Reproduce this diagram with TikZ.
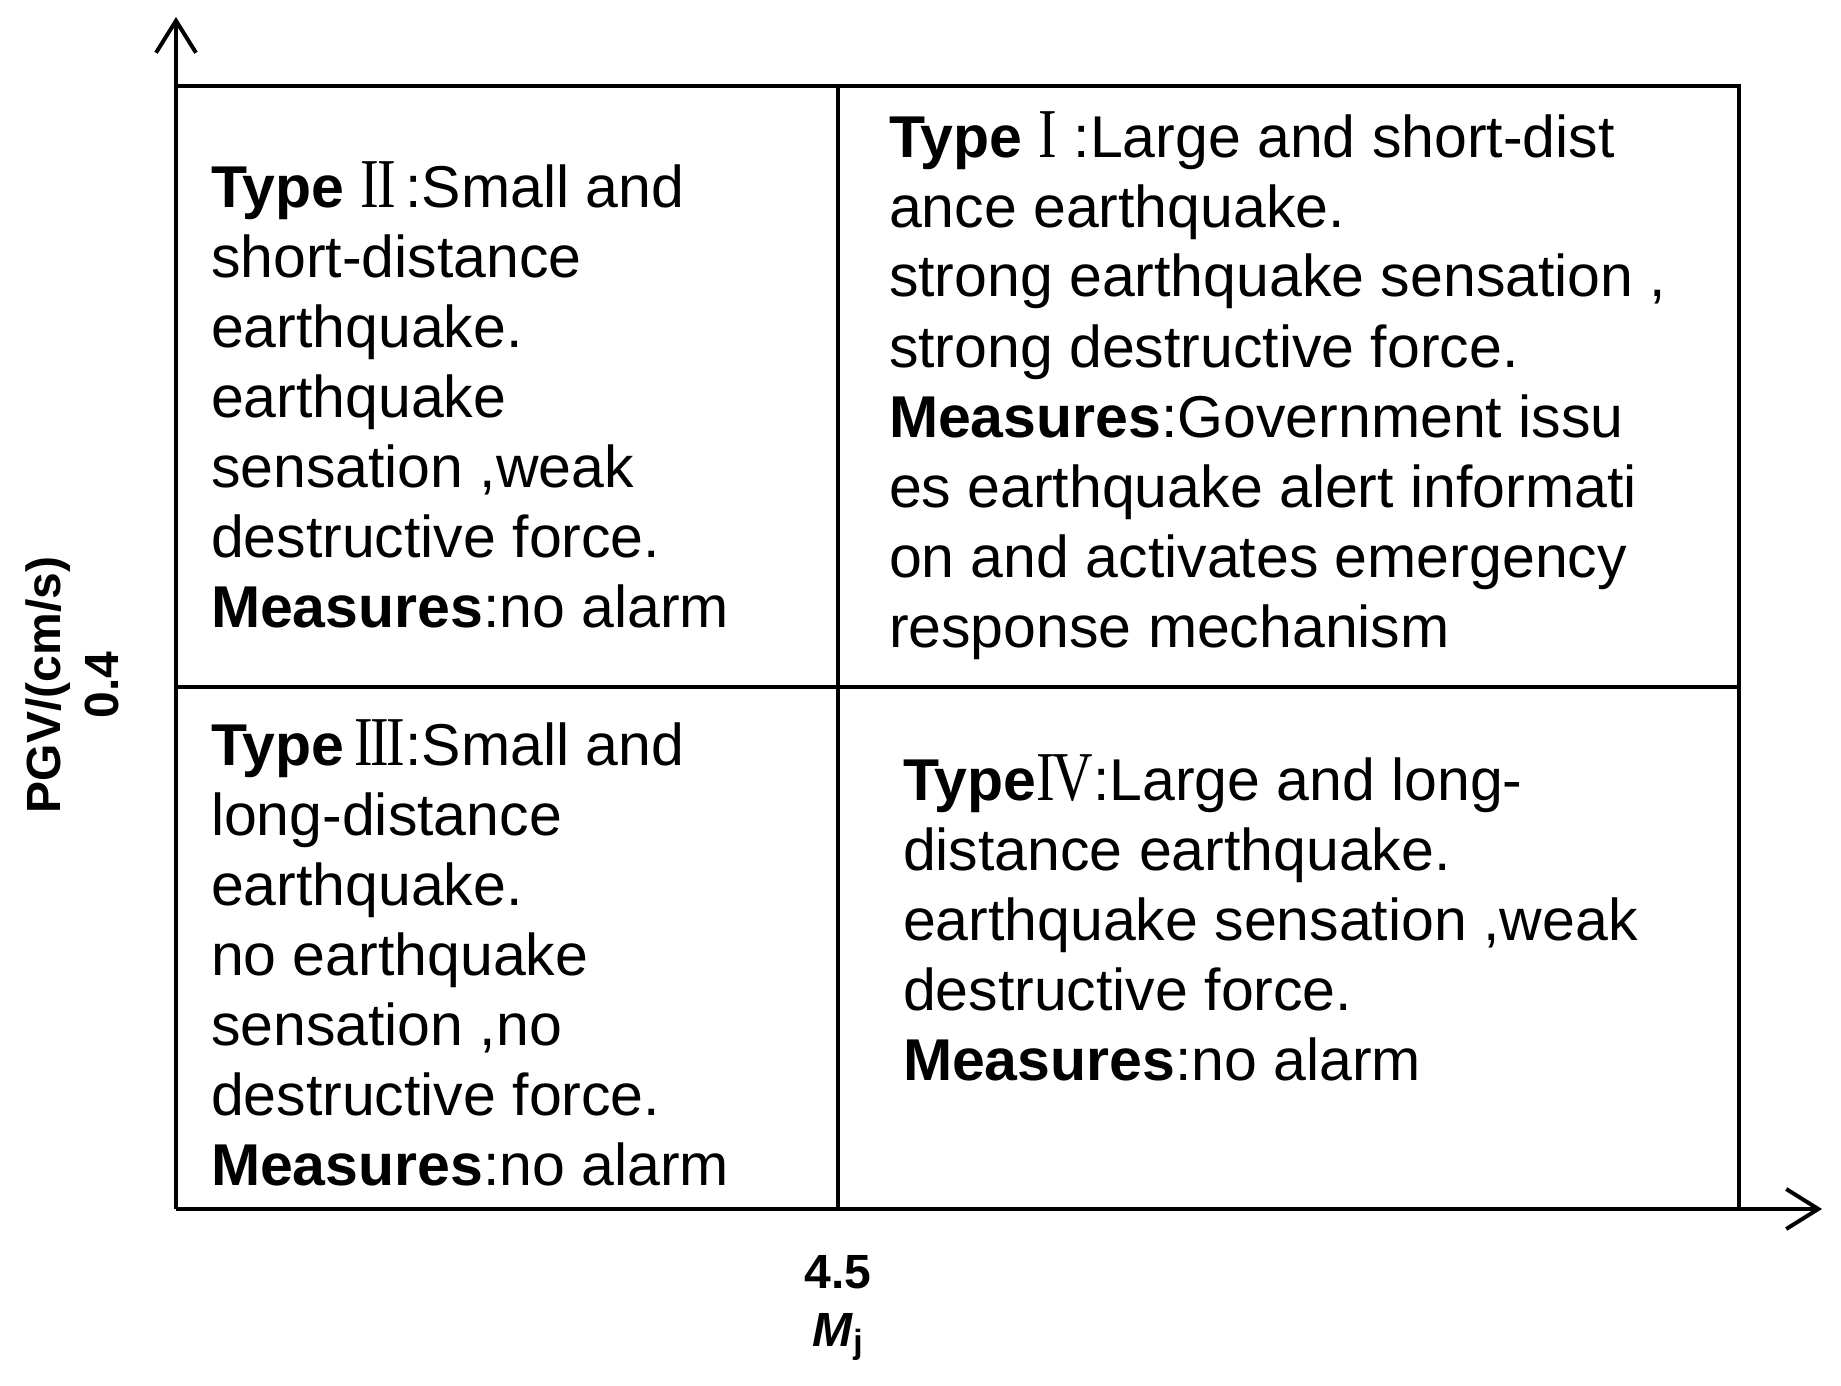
\documentclass[tikz,border=0pt]{standalone}
\usepackage{fontspec}
\usepackage{graphicx}
\setmainfont{Liberation Sans}
\newfontfamily\romfont{Liberation Serif}
\usetikzlibrary{arrows.meta}
\newcommand\rn[1]{{\romfont\fontsize{35pt}{35pt}\selectfont\scalebox{0.8}[1]{#1}}}
\newcommand\blk[2]{\parbox[t]{#1}{\raggedright\fontsize{29.5pt}{35pt}\selectfont #2}}
\tikzset{
  frame/.style={line width=2pt, line cap=rect},
  axis/.style={line width=2pt, -{Straight Barb[length=16pt,width=20pt,line width=2pt]}},
  txt/.style={anchor=base west, inner sep=0pt, outer sep=0pt},
  lab/.style={inner sep=0pt, align=center, font=\bfseries\fontsize{24pt}{29pt}\selectfont}
}
\begin{document}
\begin{tikzpicture}[x=0.5pt,y=-0.5pt]
\useasboundingbox[fill=white] (0,0) rectangle (1841,1386);
% frame coordinates
\coordinate (o) at (176,1209);
\coordinate (ytip) at (176,17);
\coordinate (xtip) at (1822,1209);
\coordinate (tl) at (176,86);
\coordinate (tr) at (1739,86);
\coordinate (br) at (1739,1209);
\coordinate (mt) at (838,86);
\coordinate (mb) at (838,1209);
\coordinate (ml) at (176,687);
\coordinate (mr) at (1739,687);
% axes
\draw[axis] (o) -- (ytip);
\draw[axis] (o) -- (xtip);
% box and dividers
\draw[frame] (tl) -- (tr) -- (br);
\draw[frame] (mt) -- (mb);
\draw[frame] (ml) -- (mr);
% quadrant texts
\node[txt] (q2) at (211,207) {\blk{320pt}{\textbf{Type} \rn{I\kern-1.5ptI}\,:Small and\\
short-distance\\
earthquake.\\
earthquake\\
sensation ,weak\\
destructive force.\\
\textbf{Measures}:no alarm}};
\node[txt] (q1) at (889,157) {\blk{420pt}{\textbf{Type} \rn{I} :Large and short-dist\\
ance earthquake.\\
strong earthquake sensation ,\\
strong destructive force.\\
\textbf{Measures}:Government issu\\
es earthquake alert informati\\
on and activates emergency\\
response mechanism}};
\node[txt] (q3) at (211,765) {\blk{320pt}{\textbf{Type}\,\rn{I\kern-1.5ptI\kern-1.5ptI}:Small and\\
long-distance\\
earthquake.\\
no earthquake\\
sensation ,no\\
destructive force.\\
\textbf{Measures}:no alarm}};
\node[txt] (q4) at (903,800) {\blk{420pt}{\textbf{Type}\rn{I\kern-1.5ptV}:Large and long-\\
distance earthquake.\\
earthquake sensation ,weak\\
destructive force.\\
\textbf{Measures}:no alarm}};
% axis labels
\node[lab, rotate=90] (ylab) at (72,685) {PGV/(cm/s)\\0.4};
\node[lab] (xlab) at (838,1308) {4.5\\\textit{M}\textsubscript{j}};
\end{tikzpicture}
\end{document}
